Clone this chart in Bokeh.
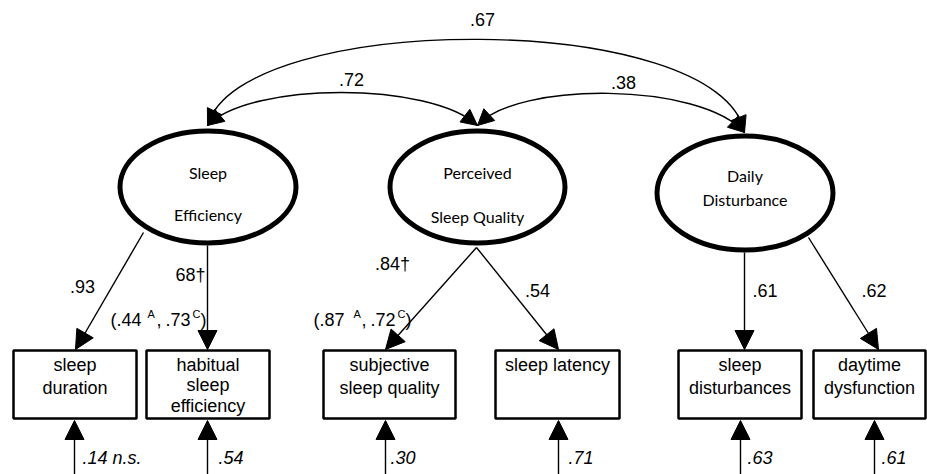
import numpy as np
from bokeh.plotting import figure
from bokeh.models import Range1d, Arrow, NormalHead, ColumnDataSource
from bokeh.core.properties import value
from bokeh.embed import file_html
from bokeh.resources import INLINE

# ---------------- data (model content) ----------------
latent_lines = [["Sleep", "Efficiency"],
                ["Perceived", "Sleep Quality"],
                ["Daily", "Disturbance"]]
indicator_lines = [["sleep", "duration"],
                   ["habitual", "sleep", "efficiency"],
                   ["subjective", "sleep quality"],
                   ["sleep latency"],
                   ["sleep", "disturbances"],
                   ["daytime", "dysfunction"]]
indicator_factor = [0, 0, 1, 1, 2, 2]
loadings = [".93", "68†", ".84†", ".54", ".61", ".62"]
residuals = [".14 n.s.", ".54", ".30", ".71", ".63", ".61"]
corr_pairs = [(0, 2), (0, 1), (1, 2)]
corr_values = [".67", ".72", ".38"]
group_values_habitual = [".44", ".73"]
group_values_subjective = [".87", ".72"]
group_tags = ["A", "C"]

# ---------------- layout (pixel positions of the reference) ----------------
W, H = 927, 474
MAIN_FONT = "Liberation Sans"
LAT_FONT = "Lato"
FS = "18px"
DY = -7  # baseline correction for rendered text

ell_x = [207.5, 477, 744.5]
ell_y = [186.5, 186.5, 192.5]
ell_w = [176, 175, 176]
ell_h = [112, 112, 114]
ell_text_base = [[178.5, 220.5], [178.5, 222.5], [181.5, 206]]

box_left = [13, 146, 323, 495, 678, 813]
box_right = [136, 269, 455, 619, 801, 925]
box_top, box_bottom = 350, 418
line_bases = {1: [371], 2: [371, 394], 3: [371, 391.5, 412]}

load_start = [(143, 232), (207, 245), (476, 247), (476, 247), (744, 252), (808, 237)]
load_end = [(75, 349), (207, 349), (385, 349), (558, 349), (744, 349), (878, 349)]
load_lab = [(82, 292.5), (190, 281), (392, 270.5), (537, 297), (764.5, 297), (873.5, 297)]

res_x = [74, 207, 385, 558, 740, 874]
res_lab_x = [82, 218, 390, 568, 747, 881]
res_base = 464

corr_ends = [((207, 125), (744, 132)), ((207, 125), (477, 125)), ((477, 125), (744, 132))]
corr_ctrl = [((240, 9), (720, 9)), ((250, 81), (430, 81)), ((515, 81), (700, 81))]
corr_lab = [(482, 26), (351, 85.5), (623, 88.5)]

grp_main_x = [[110, 156, 165, 200], [313, 361, 370, 405]]
grp_sup_x = [[147, 192], [353, 397]]
grp_base, grp_sup_base = 326, 318.5

p = figure(width=W, height=H, x_range=Range1d(0, W), y_range=Range1d(H, 0),
           output_backend="svg", toolbar_location=None, min_border=0,
           x_axis_type=None, y_axis_type=None)
p.grid.visible = False
p.outline_line_color = None
p.background_fill_color = "white"
p.border_fill_color = "white"

# ---------------- curved correlation arrows ----------------
def bez(p0, c0, c1, p1, t):
    t = np.asarray(t)
    x = (1 - t) ** 3 * p0[0] + 3 * (1 - t) ** 2 * t * c0[0] + 3 * (1 - t) * t ** 2 * c1[0] + t ** 3 * p1[0]
    y = (1 - t) ** 3 * p0[1] + 3 * (1 - t) ** 2 * t * c0[1] + 3 * (1 - t) * t ** 2 * c1[1] + t ** 3 * p1[1]
    return x, y

ca_xs, ca_ys, ca_xe, ca_ye = [], [], [], []
for (p0, p1), (c0, c1) in zip(corr_ends, corr_ctrl):
    p.bezier(x0=[p0[0]], y0=[p0[1]], x1=[p1[0]], y1=[p1[1]],
             cx0=[c0[0]], cy0=[c0[1]], cx1=[c1[0]], cy1=[c1[1]],
             line_color="black", line_width=1.4)
    for ts, te in [(0.05, 0.0), (0.95, 1.0)]:
        xs, ys = bez(p0, c0, c1, p1, ts)
        xe, ye = bez(p0, c0, c1, p1, te)
        ca_xs.append(float(xs)); ca_ys.append(float(ys))
        ca_xe.append(float(xe)); ca_ye.append(float(ye))
p.add_layout(Arrow(source=ColumnDataSource(dict(xs=ca_xs, ys=ca_ys, xe=ca_xe, ye=ca_ye)),
                   x_start="xs", y_start="ys", x_end="xe", y_end="ye",
                   line_width=1.4, line_color="black",
                   end=NormalHead(size=16, fill_color="black", line_color="black", line_width=1)))

p.text(x=[c[0] for c in corr_lab], y=[c[1] + DY for c in corr_lab], text=corr_values,
       text_font=value(MAIN_FONT), text_font_size=FS, text_align="center",
       text_baseline="alphabetic", text_color="black")

# ---------------- latent ellipses ----------------
p.ellipse(x=ell_x, y=ell_y, width=ell_w, height=ell_h, fill_color="white",
          line_color="black", line_width=5)
lx, ly, lt = [], [], []
for i, lines in enumerate(latent_lines):
    for s, b in zip(lines, ell_text_base[i]):
        lx.append(ell_x[i]); ly.append(b + DY); lt.append(s)
p.text(x=lx, y=ly, text=lt, text_font=value(LAT_FONT), text_font_size="16px",
       text_align="center", text_baseline="alphabetic", text_color="black")

# ---------------- indicator boxes ----------------
p.quad(left=box_left, right=box_right, top=[box_top] * 6, bottom=[box_bottom] * 6,
       fill_color="white", line_color="black", line_width=2.5)
bx, by, bt = [], [], []
for i, lines in enumerate(indicator_lines):
    cx = (box_left[i] + box_right[i]) / 2
    for s, b in zip(lines, line_bases[len(lines)]):
        bx.append(cx); by.append(b + DY); bt.append(s)
p.text(x=bx, y=by, text=bt, text_font=value(MAIN_FONT), text_font_size=FS,
       text_align="center", text_baseline="alphabetic", text_color="black")

# ---------------- loading arrows ----------------
p.add_layout(Arrow(source=ColumnDataSource(dict(
                       xs=[s[0] for s in load_start], ys=[s[1] for s in load_start],
                       xe=[e[0] for e in load_end], ye=[e[1] for e in load_end])),
                   x_start="xs", y_start="ys", x_end="xe", y_end="ye",
                   line_width=1.4, line_color="black",
                   end=NormalHead(size=19, fill_color="black", line_color="black", line_width=1)))
p.text(x=[l[0] for l in load_lab], y=[l[1] + DY for l in load_lab], text=loadings,
       text_font=value(MAIN_FONT), text_font_size=FS, text_align="center",
       text_baseline="alphabetic", text_color="black")

# group-specific estimates with superscripts
for vals, mx, sx in zip([group_values_habitual, group_values_subjective], grp_main_x, grp_sup_x):
    main_txt = ["(" + vals[0], ",", vals[1], ")"]
    p.text(x=mx, y=[grp_base + DY] * 4, text=main_txt, text_font=value(MAIN_FONT),
           text_font_size=FS, text_align="left", text_baseline="alphabetic", text_color="black")
    p.text(x=sx, y=[grp_sup_base + DY + 2] * 2, text=group_tags, text_font=value(MAIN_FONT),
           text_font_size="11px", text_align="left", text_baseline="alphabetic", text_color="black")

# ---------------- residual arrows ----------------
p.add_layout(Arrow(source=ColumnDataSource(dict(xs=res_x, ys=[490] * 6, xe=res_x, ye=[420] * 6)),
                   x_start="xs", y_start="ys", x_end="xe", y_end="ye",
                   line_width=1.4, line_color="black",
                   end=NormalHead(size=19, fill_color="black", line_color="black", line_width=1)))
p.text(x=res_lab_x, y=[res_base + DY] * 6, text=residuals, text_font=value(MAIN_FONT),
       text_font_size=FS, text_font_style="italic", text_align="left",
       text_baseline="alphabetic", text_color="black")

open("out.html", "w").write(file_html(p, INLINE))
